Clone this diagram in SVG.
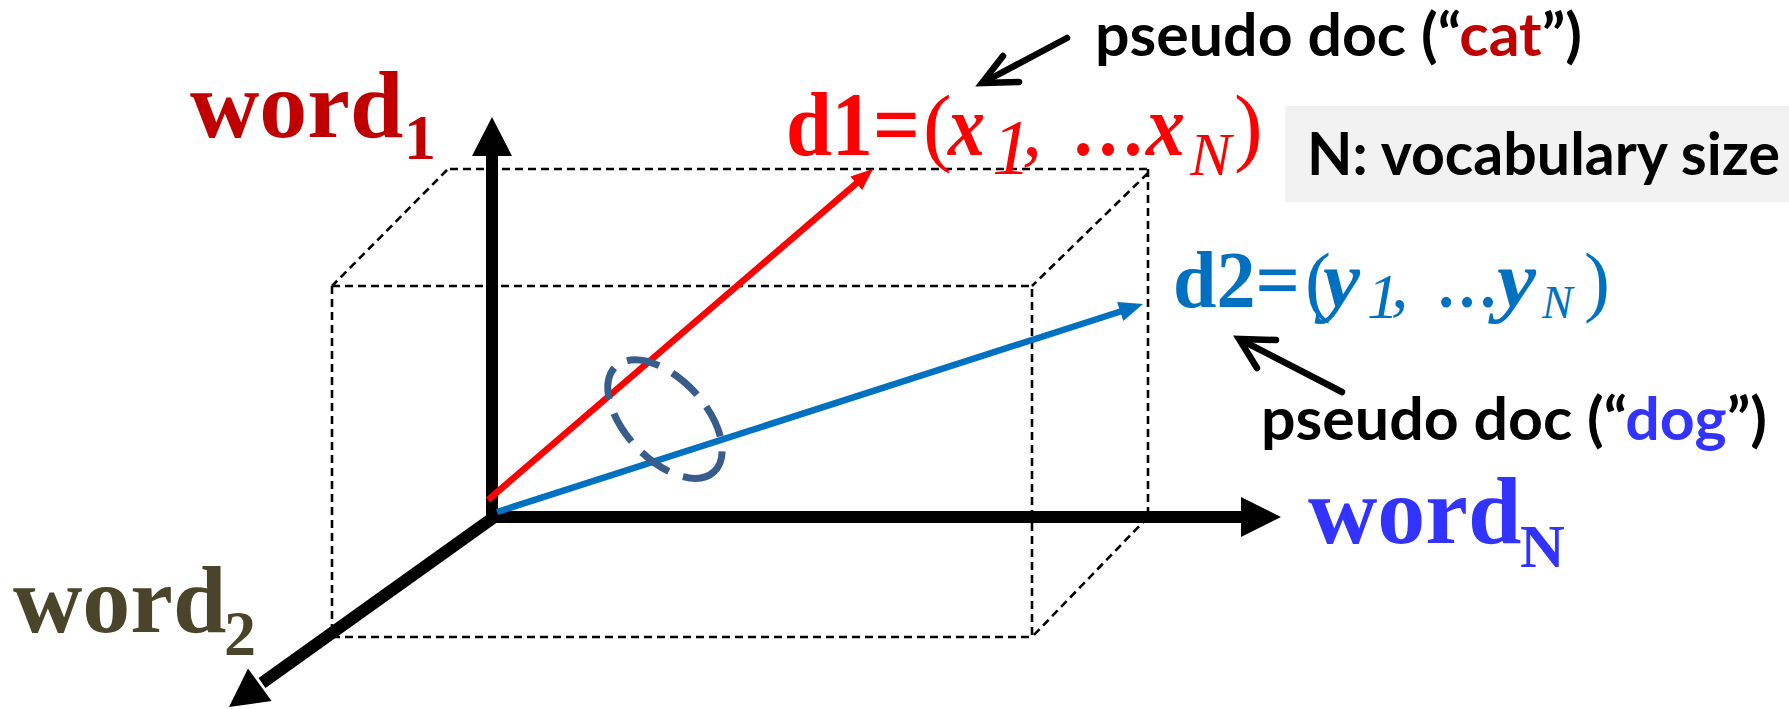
<svg xmlns="http://www.w3.org/2000/svg" width="1789" height="709" viewBox="0 0 1789 709">
<style>
.dash{fill:none;stroke:#000;stroke-width:2.6;stroke-dasharray:8 5}
.axis{stroke:#000;stroke-width:12;fill:none}
.serif{font-family:"Liberation Serif","Times New Roman",serif;font-weight:bold}
.it{font-style:italic}
.reg{font-weight:normal}
.sans{font-family:Lato,"Open Sans","Liberation Sans",sans-serif;font-weight:bold;font-size:60px;fill:#000}
.ptr{fill:none;stroke:#000;stroke-width:6.5;stroke-linecap:round;stroke-linejoin:miter}
</style>
<rect width="1789" height="709" fill="#fff"/>

<g id="box">
<path class="dash" d="M450 169 H1148 M447 170 L332 286 M332 286 H1032 M332 286 V637 H1032 V286 M1148 169 V517 M1148 173 L1032 286 M1148 517 L1032 637"/>
</g>

<g id="connectors">
<line class="axis" x1="492" y1="523" x2="492" y2="154"/>
<polygon points="492,117 472,156 512,156" fill="#000"/>
<line class="axis" x1="486" y1="517" x2="1243" y2="517"/>
<polygon points="1281,517 1241,497 1241,537" fill="#000"/>
<line class="axis" x1="497" y1="515" x2="262" y2="683"/>
<polygon points="229,707 248,668.5 271.6,701.1" fill="#000"/>
<line x1="488" y1="500" x2="858" y2="182" stroke="#FF0000" stroke-width="6.5"/>
<polygon points="873,169 862.2,190.1 850.4,176.5" fill="#FF0000"/>
<line x1="497" y1="512" x2="1122" y2="311" stroke="#0070C0" stroke-width="6.5"/>
<polygon points="1143,304 1123.3,320.9 1117.1,301.9" fill="#0070C0"/>
<path class="ptr" d="M1067 38 L986 81"/>
<path class="ptr" d="M1003 56 L982 83 L1019 82"/>
<path class="ptr" d="M1342 392 L1243 341"/>
<path class="ptr" d="M1276 340 L1239 339 L1257 368"/>
</g>

<g id="angle">
<ellipse cx="665" cy="419" rx="72" ry="40" transform="rotate(47 665 419)" fill="none" stroke="#385D8A" stroke-width="7" stroke-dasharray="33 15"/>
</g>

<g id="word1">
<text class="serif" x="190" y="137" font-size="96" fill="#C00000">word</text>
<text class="serif" x="404" y="159" font-size="64" fill="#C00000">1</text>
</g>

<g id="word2">
<text class="serif" x="13" y="632" font-size="96" fill="#4A452A">word</text>
<text class="serif" x="224" y="655" font-size="64" fill="#4A452A">2</text>
</g>

<g id="wordN">
<text class="serif" x="1308" y="543" font-size="96" fill="#3333FF">word</text>
<text class="serif" x="1520" y="567" font-size="62" fill="#3333FF">N</text>
</g>

<g id="d1" fill="#FF0000">
<text class="serif" x="786" y="155" font-size="90" textLength="134" lengthAdjust="spacingAndGlyphs">d1=</text>
<text class="serif reg" x="923" y="155" font-size="86">(</text>
<text class="serif it" x="948" y="155" font-size="86" textLength="37" lengthAdjust="spacingAndGlyphs">x</text>
<text class="serif it reg" x="992" y="173" font-size="78">1</text>
<text class="serif it reg" x="1022" y="155" font-size="80">,</text>
<text class="serif" x="1071" y="155" font-size="80" textLength="74" lengthAdjust="spacingAndGlyphs">…</text>
<text class="serif it" x="1146" y="155" font-size="86" textLength="39" lengthAdjust="spacingAndGlyphs">x</text>
<text class="serif it reg" x="1190" y="175" font-size="62">N</text>
<text class="serif reg" x="1234" y="155" font-size="86">)</text>
</g>

<g id="d2" fill="#0070C0">
<text class="serif" x="1173" y="307" font-size="80" textLength="127" lengthAdjust="spacingAndGlyphs">d2=</text>
<text class="serif reg" x="1305" y="307" font-size="78">(</text>
<text class="serif it" x="1323" y="307" font-size="80" textLength="37" lengthAdjust="spacingAndGlyphs">y</text>
<text class="serif it reg" x="1367" y="318" font-size="64">1</text>
<text class="serif it reg" x="1391" y="307" font-size="70">,</text>
<text class="serif" x="1436" y="307" font-size="66" textLength="62" lengthAdjust="spacingAndGlyphs">…</text>
<text class="serif it" x="1497" y="307" font-size="80" textLength="39" lengthAdjust="spacingAndGlyphs">y</text>
<text class="serif it reg" x="1542" y="318" font-size="46">N</text>
<text class="serif reg" x="1584" y="307" font-size="78">)</text>
</g>

<g id="cat-label">
<text class="sans" x="1095" y="56" textLength="487" lengthAdjust="spacingAndGlyphs">pseudo doc (“<tspan fill="#C00000">cat</tspan>”)</text>
</g>

<g id="dog-label">
<text class="sans" x="1261" y="440" textLength="506" lengthAdjust="spacingAndGlyphs">pseudo doc (“<tspan fill="#3333FF">dog</tspan>”)</text>
</g>

<g id="vocab">
<rect x="1285" y="106" width="504" height="96" fill="#F2F2F2"/>
<text class="sans" x="1307" y="175" textLength="473" lengthAdjust="spacingAndGlyphs">N: vocabulary size</text>
</g>
</svg>
